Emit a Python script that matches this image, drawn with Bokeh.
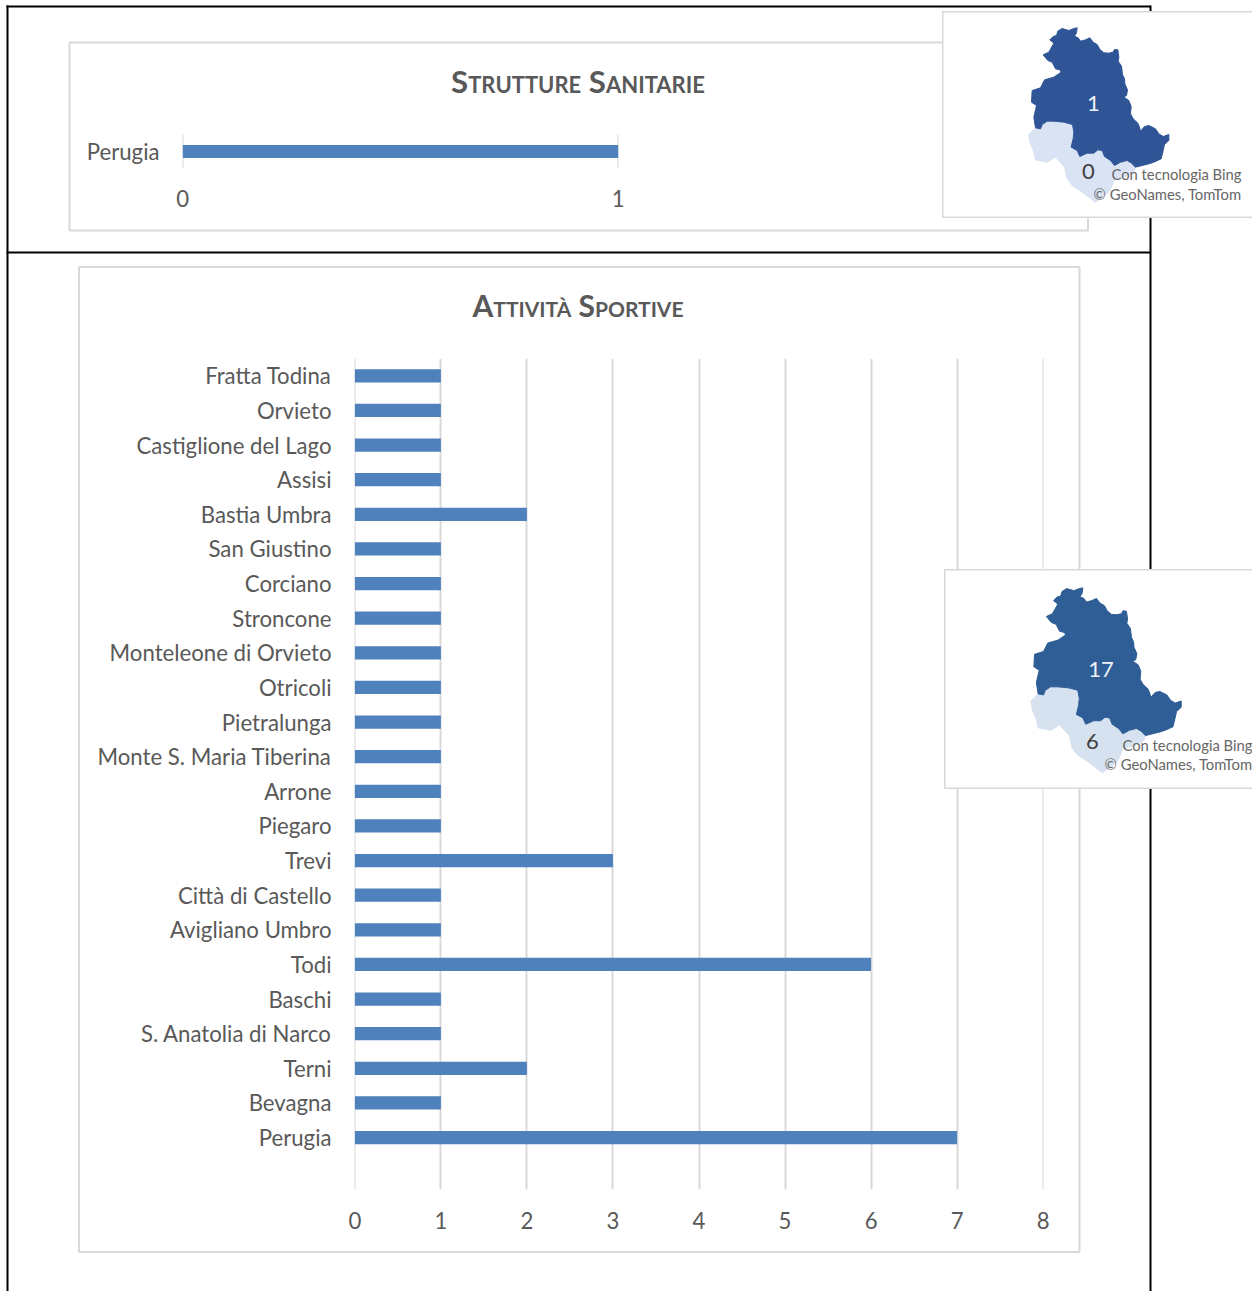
from bokeh.embed import file_html
from bokeh.models import Div, FixedTicker, Range1d
from bokeh.plotting import figure
from bokeh.core.properties import value
from bokeh.resources import INLINE

PAGE_W, PAGE_H = 1252, 1291
FONT = "Lato"
TEXT = "#595959"
RULE = "#d9d9d9"
BAR = "#4f81bd"

# Structures per municipality
health_towns = ["Perugia"]
health_counts = [1]
health_ticks = [0, 1]

# Sports activities per municipality, top row first
sport_towns = [
    "Fratta Todina", "Orvieto", "Castiglione del Lago", "Assisi", "Bastia Umbra",
    "San Giustino", "Corciano", "Stroncone", "Monteleone di Orvieto", "Otricoli",
    "Pietralunga", "Monte S. Maria Tiberina", "Arrone", "Piegaro", "Trevi",
    "Città di Castello", "Avigliano Umbro", "Todi", "Baschi", "S. Anatolia di Narco",
    "Terni", "Bevagna", "Perugia",
]
sport_counts = [1, 1, 1, 1, 2, 1, 1, 1, 1, 1, 1, 1, 1, 1, 3, 1, 1, 6, 1, 1, 2, 1, 7]
sport_ticks = [0, 1, 2, 3, 4, 5, 6, 7, 8]

# Province totals shown on the two maps: Perugia, Terni
health_province_totals = ["1", "0"]
sport_province_totals = ["17", "6"]

# Province outlines in map units
perugia_x = [352, 365, 385, 400, 410, 408, 402, 413, 420, 435, 448, 458, 470, 478, 490, 505,
             518, 522, 532, 535, 533, 543, 546, 552, 553, 561, 558, 550, 565, 572, 570, 578,
             592, 597, 600, 612, 625, 645, 655, 668, 685, 685, 672, 668, 662, 640, 625, 605,
             585, 572, 560, 540, 522, 510, 492, 485, 472, 460, 440, 418, 410, 392, 398, 400,
             396, 370, 340, 320, 305, 300, 285, 280, 288, 273, 275, 300, 312, 340, 362, 358,
             345, 335, 322, 308, 325, 340, 328, 338, 348]
perugia_y = [92, 84, 90, 84, 82, 97, 107, 112, 122, 118, 112, 125, 132, 147, 157, 158,
             155, 147, 148, 170, 182, 197, 222, 235, 250, 268, 285, 290, 300, 318, 340, 355,
             368, 380, 392, 378, 375, 385, 400, 408, 402, 420, 432, 450, 475, 485, 490, 495,
             500, 487, 480, 485, 495, 480, 468, 450, 448, 458, 458, 468, 450, 440, 415, 395,
             372, 365, 362, 362, 372, 385, 382, 350, 315, 305, 270, 262, 238, 230, 215, 208,
             205, 185, 180, 163, 155, 128, 118, 108, 105]
terni_x = [265, 285, 300, 305, 320, 340, 370, 396, 400, 398, 392, 410, 418, 440, 460, 472, 485,
           492, 510, 522, 540, 560, 572, 585, 580, 550, 522, 515, 505, 485, 465, 445, 425, 395,
           380, 372, 345, 320, 285, 280, 268]
terni_y = [402, 382, 385, 372, 362, 362, 365, 372, 395, 415, 440, 450, 468, 458, 458, 448, 450,
           468, 480, 495, 485, 480, 487, 500, 515, 530, 535, 555, 575, 590, 605, 590, 575, 555,
           535, 500, 470, 485, 478, 455, 425]


def place(left, top, width, height):
    return {"position": "absolute", "left": f"{left}px", "top": f"{top}px",
            "width": f"{width}px", "height": f"{height}px"}


def bar_chart(towns, counts, ticks, box, frame, standoff_x, standoff_y, spare_row=False):
    """Horizontal bars in a panel; box and frame are page rectangles (left, top, right, bottom)."""
    left, top, right, bottom = box
    fl, ft, fr, fb = frame
    width, height = right - left, bottom - top
    factors = list(reversed(towns))
    shown = counts[::-1]
    y_factors = ([" "] + factors) if spare_row else factors
    # A sliver of padding keeps the first and last gridlines from being dropped at the range ends
    pad = (ticks[-1] - ticks[0]) * 0.0005
    p = figure(width=width, height=height, y_range=y_factors,
               x_range=Range1d(ticks[0] - pad, ticks[-1] + pad),
               output_backend="svg", toolbar_location=None,
               min_border_left=fl - left, min_border_right=right - fr,
               min_border_top=ft - top, min_border_bottom=bottom - fb,
               background_fill_color=None, border_fill_color=None, outline_line_color=None,
               styles=place(left, top, width, height))
    p.hbar(y=factors, right=shown, left=0, height=0.38, fill_color=BAR, line_color=None)
    p.xaxis.ticker = FixedTicker(ticks=ticks)
    p.xgrid.ticker = FixedTicker(ticks=ticks)
    p.xgrid.grid_line_color = RULE
    p.xgrid.grid_line_width = 2
    p.ygrid.grid_line_color = None
    for ax in (p.xaxis[0], p.yaxis[0]):
        ax.axis_line_color = None
        ax.major_tick_line_color = None
        ax.minor_tick_line_color = None
        ax.major_label_text_font = FONT
        ax.major_label_text_font_size = "22.2px"
        ax.major_label_text_color = TEXT
    p.xaxis.major_label_standoff = standoff_x
    p.yaxis.major_label_standoff = standoff_y
    return p


# Page rules and chart panels
bg = figure(width=PAGE_W, height=PAGE_H, x_range=Range1d(0, PAGE_W), y_range=Range1d(PAGE_H, 0),
            output_backend="svg", toolbar_location=None, min_border=0,
            outline_line_color=None, styles=place(0, 0, PAGE_W, PAGE_H))
bg.axis.visible = False
bg.grid.visible = False
bg.multi_line(xs=[[7, 7], [6, 1150], [1150, 1150], [6, 1150]],
              ys=[[5, PAGE_H], [6, 6], [5, PAGE_H], [252, 252]],
              line_color="black", line_width=2)
bg.quad(left=[69, 78.5], right=[1087.5, 1079], top=[42, 266.5], bottom=[230, 1251.5],
        fill_color="white", line_color=RULE, line_width=2)

hp = bar_chart(health_towns, health_counts, health_ticks, (71, 44, 1086, 228),
               (182, 134, 618, 168), 15, 17)
# The empty last row leaves the gridlines running on under the final bar
sp = bar_chart(sport_towns, sport_counts, sport_ticks, (81, 268, 1077, 1249),
               (354, 358, 1043, 1189), 16, 17, spare_row=True)


def title(text, cx, cy, size):
    w, h = 500, 40
    s = place(cx - w // 2, cy - h // 2, w, h)
    s.update({"text-align": "center", "font-family": FONT, "font-weight": "bold",
              "font-variant": "small-caps", "font-size": size, "color": TEXT,
              "line-height": f"{h}px", "margin": "0"})
    return Div(text=text, width=w, height=h, styles=s, margin=0)


def province_map(left, top, width, height, xr, yr, dark, light, totals, label_xy, credit_right, credit_ys):
    m = figure(width=width, height=height, x_range=Range1d(*xr), y_range=Range1d(*yr),
               output_backend="svg", toolbar_location=None, min_border=0,
               outline_line_color=RULE, outline_line_width=2,
               background_fill_color="white", border_fill_color="white",
               styles=place(left, top, width, height))
    m.axis.visible = False
    m.grid.visible = False
    m.patch(terni_x, terni_y, fill_color=light, line_color=light, line_width=1)
    m.patch(perugia_x, perugia_y, fill_color=dark, line_color=dark, line_width=1)
    m.text(x=[label_xy[0][0]], y=[label_xy[0][1]], text=[totals[0]], text_color="#eef2f8",
           text_font=value(FONT), text_font_size="22px", text_align="center", text_baseline="middle")
    m.text(x=[label_xy[1][0]], y=[label_xy[1][1]], text=[totals[1]], text_color="#404040",
           text_font=value(FONT), text_font_size="22px", text_align="center", text_baseline="middle")
    m.text(x=[credit_right] * 2, y=credit_ys, text=["Con tecnologia Bing", "© GeoNames, TomTom"],
           text_color="#666666", text_font=value(FONT), text_font_size="14.8px",
           text_align="right", text_baseline="middle")
    return m


# Map units on the first inset are three to one against screen pixels
map_a = province_map(942, 11, 320, 207, (6, 966), (654, 33), "#2f5597", "#dae3f3",
                     health_province_totals, [(459, 309), (444, 513)], 903, [519, 579])
map_b = province_map(944, 569, 320, 220, (23.2, 917.9), (652.6, 30), "#2f5e96", "#d6e2ef",
                     sport_province_totals, [(461, 312), (437, 516)], 884.4, [528, 581])

roots = [bg, hp, sp, title("Strutture Sanitarie", 578, 81, "31.2px"),
         title("Attività Sportive", 578, 305, "30px"), map_a, map_b]
open("out.html", "w").write(file_html(roots, INLINE))
